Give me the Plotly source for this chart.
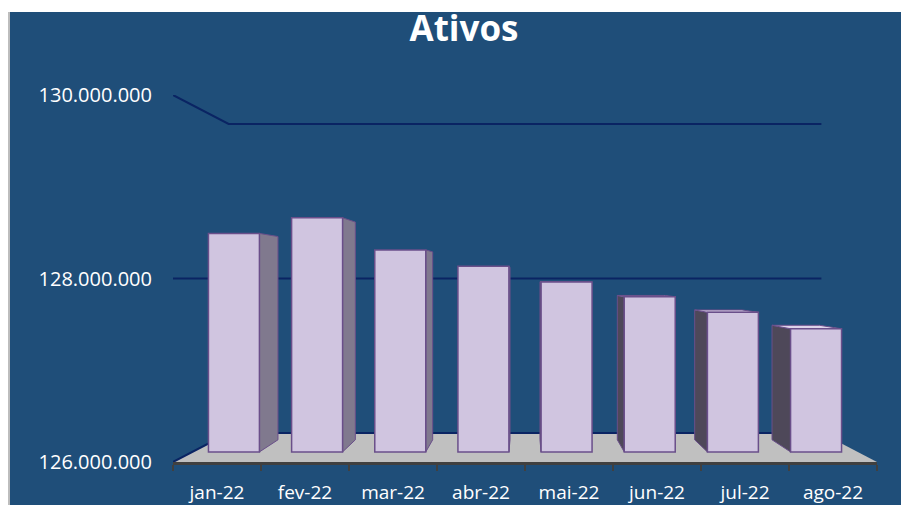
import plotly.graph_objects as go

months = ['jan-22', 'fev-22', 'mar-22', 'abr-22', 'mai-22', 'jun-22', 'jul-22', 'ago-22']
ativos = [128520000, 128700000, 128330000, 128140000, 127960000, 127790000, 127610000, 127420000]
grid_values = [126000000, 128000000, 130000000]

font_family = 'Open Sans'
bg_blue = '#1F4E79'
bar_fill = '#D0C5E0'
bar_line = '#6A4F8A'
grid_navy = '#0A2463'

# fake 3D: vanishing point (category index, value) and depths of the planes
vx = (len(months) - 1) / 2
vy = grid_values[1]
k_front, k_back, k_wall = 0.055, 0.121, 0.158
bar_w = 0.613
floor = grid_values[0]
x_lo, x_hi = -0.5, len(months) - 0.5
y_lo, y_hi = grid_values[0], grid_values[-1]


def proj(x, y, k):
    return x + k * (vx - x), y + k * (vy - y)


def poly(points, color, line_color=None, width=0):
    xs = [p[0] for p in points] + [points[0][0]]
    ys = [p[1] for p in points] + [points[0][1]]
    return go.Scatter(x=xs, y=ys, mode='lines', fill='toself', fillcolor=color,
                      line=dict(color=line_color or color, width=width),
                      hoverinfo='skip', showlegend=False, xaxis='x', yaxis='y')


fig = go.Figure()

# floor
fig.add_trace(poly([(x_lo, floor), (x_hi, floor), proj(x_hi, floor, k_wall), proj(x_lo, floor, k_wall)],
                   '#C0C0C0'))

# wall gridlines
for g in grid_values:
    pts = [(x_lo, g), proj(x_lo, g, k_wall), proj(x_hi, g, k_wall)]
    fig.add_trace(go.Scatter(x=[p[0] for p in pts], y=[p[1] for p in pts], mode='lines',
                             line=dict(color=grid_navy, width=2), hoverinfo='skip', showlegend=False))

# side and top faces of the bars
for i, v in enumerate(ativos):
    if i < vx:
        xe, side_color = i + bar_w / 2, '#80798E'
    else:
        xe, side_color = i - bar_w / 2, '#4E4859'
    fig.add_trace(poly([proj(xe, v, k_front), proj(xe, v, k_back),
                        proj(xe, floor, k_back), proj(xe, floor, k_front)],
                       side_color, bar_line, 1))
    if v < vy:
        xl, xr = i - bar_w / 2, i + bar_w / 2
        fig.add_trace(poly([proj(xl, v, k_front), proj(xr, v, k_front),
                            proj(xr, v, k_back), proj(xl, v, k_back)],
                           '#DDD3EA', bar_line, 1))

# front faces
fig.add_trace(go.Bar(
    x=list(range(len(months))),
    y=[v - floor for v in ativos],
    base=floor,
    width=bar_w,
    marker=dict(color=bar_fill, line=dict(color=bar_line, width=1.5)),
    xaxis='x2', yaxis='y2',
    hovertext=months,
    showlegend=False,
))


def front_range(lo, hi, c):
    return [(lo - k_front * c) / (1 - k_front), (hi - k_front * c) / (1 - k_front)]


fig.update_layout(
    width=901, height=505,
    autosize=False,
    margin=dict(l=173, r=24, t=95, b=43),
    paper_bgcolor='white',
    plot_bgcolor='rgba(0,0,0,0)',
    separators=',.',
    font=dict(family=font_family, color='white', size=20),
    title=dict(text='Ativos', x=464 / 901, xref='container', xanchor='center',
               y=1 - 29 / 505, yref='container', yanchor='middle',
               font=dict(family=font_family, size=35, color='white', weight='bold')),
    xaxis=dict(range=[x_lo, x_hi], tickvals=list(range(len(months))), ticktext=months,
               showgrid=False, zeroline=False, ticks='', automargin=False,
               showline=True, linecolor='#404040', linewidth=3,
               ticklabelstandoff=11,
               minor=dict(tickvals=[i - 0.5 for i in range(len(months) + 1)], ticks='outside',
                          ticklen=6, tickwidth=2, tickcolor='#404040', showgrid=False),
               tickfont=dict(size=19, color='white', family=font_family)),
    yaxis=dict(range=[y_lo, y_hi], tickvals=grid_values, tickformat=',d',
               showgrid=False, zeroline=False, showline=False, ticks='', automargin=False,
               ticklabelstandoff=20,
               tickfont=dict(size=20, color='white', family=font_family)),
    xaxis2=dict(range=front_range(x_lo, x_hi, vx), overlaying='x', anchor='y2', visible=False),
    yaxis2=dict(range=front_range(y_lo, y_hi, vy), overlaying='y', anchor='x2', visible=False),
    shapes=[
        dict(type='rect', xref='paper', yref='paper', layer='below',
             x0=(10 - 173) / 704, x1=(901 - 173) / 704, y0=(462 - 505) / 367, y1=(462 - 12) / 367,
             fillcolor=bg_blue, line=dict(width=0)),
        dict(type='line', xref='paper', yref='paper', layer='below',
             x0=(9 - 173) / 704, x1=(9 - 173) / 704, y0=(462 - 505) / 367, y1=(462 - 12) / 367,
             line=dict(color='#BDBDBD', width=2)),
    ],
)

fig.write_html('out.html',
               config={'responsive': False, 'displayModeBar': False},
               post_script="document.body.style.margin='0';")
